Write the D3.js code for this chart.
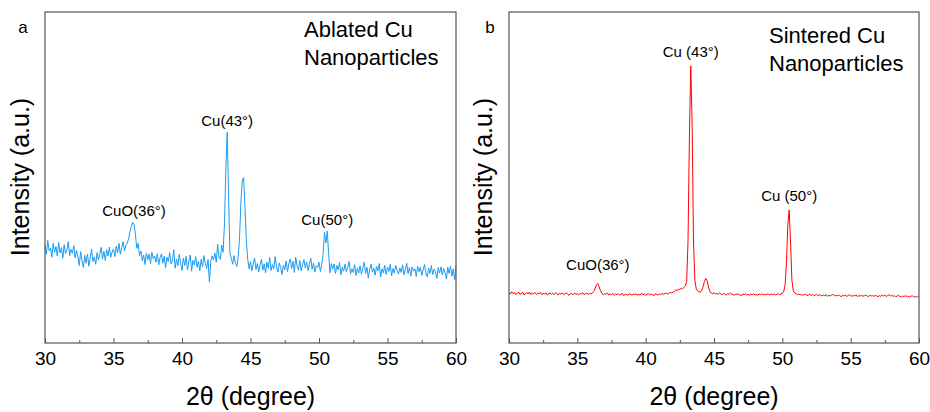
<!DOCTYPE html>
<html lang="en">
<head>
<meta charset="UTF-8">
<title>XRD Cu nanoparticles</title>
<script src="https://cdnjs.cloudflare.com/ajax/libs/d3/7.8.5/d3.min.js"></script>
<style>
  body { margin: 0; background: #fff; }
  svg text { font-family: "Liberation Sans", Arial, sans-serif; fill: #000; }
</style>
</head>
<body>
<script>
// x grid of the scans (2theta, 0.1 deg step)
var angles = d3.range(0, 301).map(function(i){ return +(30 + i * 0.1).toFixed(1); });

// ablated Cu, intensity (a.u.)
var ablated = [
  29.5, 26.8, 31.0, 27.9, 28.6, 25.9, 30.2, 27.4, 29.1, 26.3,
  30.4, 27.2, 28.8, 25.6, 29.7, 27.0, 28.1, 30.6, 26.4, 28.3,
  27.1, 29.4, 25.8, 28.0, 26.2, 23.4, 27.6, 24.9, 22.8, 26.5,
  24.1, 26.9, 23.2, 25.7, 28.4, 24.6, 26.0, 23.8, 27.3, 25.1,
  26.8, 28.9, 25.4, 27.7, 24.9, 28.2, 26.3, 29.0, 25.9, 27.5,
  28.4, 26.1, 29.3, 27.2, 30.1, 26.8, 28.9, 30.6, 27.8, 29.5,
  30.2, 31.4, 33.6, 35.2, 36.5, 35.8, 32.9, 28.6, 30.1, 26.4,
  27.8, 24.9, 26.6, 23.7, 27.1, 25.2, 26.9, 24.0, 27.4, 25.5,
  26.3, 24.4, 27.0, 23.6, 25.8, 26.9, 24.1, 26.2, 22.7, 25.9,
  24.6, 27.3, 23.9, 25.1, 28.2, 22.6, 25.4, 23.3, 26.8, 24.2,
  21.9, 25.6, 23.4, 26.2, 22.1, 24.8, 26.6, 21.7, 25.0, 23.6,
  26.1, 22.9, 24.7, 21.8, 25.3, 23.0, 26.4, 24.1, 22.5, 25.2,
  18.4, 24.6, 26.3, 25.1, 27.2, 24.4, 29.9, 26.0, 25.3, 29.6,
  27.4, 36.0, 52.5, 63.7, 44.2, 27.0, 25.6, 23.8, 26.4, 24.2,
  23.1, 25.9, 31.8, 42.6, 49.2, 50.0, 41.0, 30.8, 25.2, 22.4,
  24.6, 21.8, 23.9, 25.7, 22.2, 24.0, 21.5, 23.6, 25.3, 22.0,
  23.9, 21.2, 24.4, 22.6, 25.8, 21.9, 23.7, 22.3, 26.1, 23.0,
  21.4, 24.2, 22.8, 20.7, 23.5, 22.1, 24.8, 21.6, 23.9, 25.4,
  22.5, 24.7, 21.3, 25.9, 23.2, 22.0, 24.9, 21.8, 23.6, 25.2,
  22.7, 24.5, 21.9, 23.8, 25.6, 22.3, 24.1, 21.4, 23.3, 22.8,
  24.4, 21.6, 23.7, 26.8, 33.5, 30.2, 33.8, 27.4, 21.2, 24.0,
  22.3, 23.9, 21.0, 23.4, 22.1, 24.3, 20.6, 22.9, 21.7, 23.8,
  21.5, 22.8, 24.6, 20.9, 22.4, 21.3, 23.7, 20.4, 22.6, 21.1,
  23.3, 20.8, 22.7, 24.4, 21.0, 22.9, 19.6, 22.2, 23.8, 21.4,
  22.6, 20.5, 23.1, 21.8, 24.0, 19.9, 22.4, 21.2, 23.5, 20.7,
  22.9, 21.6, 23.8, 20.3, 22.5, 21.1, 23.4, 22.0, 20.8, 22.7,
  21.3, 23.6, 20.6, 22.2, 24.1, 21.0, 22.8, 20.2, 23.0, 21.7,
  22.4, 20.1, 23.2, 21.5, 22.9, 20.4, 22.1, 23.7, 21.2, 20.0,
  22.6, 21.0, 23.4, 20.7, 22.3, 21.6, 19.5, 22.8, 21.1, 23.0,
  20.6, 22.5, 21.3, 19.3, 22.9, 21.0, 23.2, 20.2, 22.4, 19.1,
  23.5
];

// sintered Cu, intensity (a.u.)
var sintered = [
  15.2, 14.8, 15.5, 14.9, 15.3, 14.6, 15.1, 15.4, 14.7, 15.0,
  15.3, 14.5, 15.0, 15.2, 14.8, 15.4, 14.6, 15.1, 14.9, 15.2,
  14.7, 15.1, 14.9, 15.3, 14.6, 15.0, 14.8, 15.2, 14.5, 14.9,
  15.1, 14.7, 15.0, 14.6, 15.2, 14.9, 14.5, 15.0, 14.8, 15.1,
  14.6, 14.9, 15.2, 14.7, 14.4, 15.0, 14.8, 14.6, 15.1, 14.7,
  14.9, 14.5, 15.0, 14.8, 15.2, 14.6, 14.9, 15.1, 14.7, 15.0,
  14.8, 15.1, 15.6, 16.4, 17.6, 18.0, 16.9, 15.8, 15.0, 14.6,
  14.9, 14.7, 15.1, 14.5, 14.8, 14.6, 15.0, 14.4, 14.8, 14.6,
  14.9, 14.5, 14.7, 15.0, 14.3, 14.8, 14.6, 14.4, 14.9, 14.7,
  14.5, 14.8, 14.6, 14.9, 14.4, 14.7, 14.5, 15.0, 14.6, 14.8,
  14.4, 14.7, 14.9, 14.5, 14.8, 14.6, 14.3, 14.9, 14.7, 14.5,
  14.8, 14.6, 15.0, 14.7, 14.9, 15.1, 14.8, 15.0, 15.3, 15.1,
  15.4, 15.6, 16.0, 15.8, 16.3, 16.1, 16.6, 16.4, 16.8, 17.2,
  18.5, 31.0, 62.0, 83.7, 66.0, 30.5, 19.0, 16.4, 15.8, 15.5,
  15.3, 15.9, 17.0, 18.6, 19.5, 18.8, 16.9, 15.6, 15.1, 14.9,
  15.2, 14.8, 15.0, 14.7, 15.1, 14.9, 14.6, 15.0, 14.8, 14.5,
  14.9, 14.7, 15.1, 14.8, 14.6, 14.4, 14.9, 14.6, 14.8, 14.5,
  14.3, 14.8, 14.6, 14.9, 14.5, 14.7, 14.4, 14.8, 14.6, 14.9,
  14.5, 14.7, 14.4, 14.8, 14.6, 14.9, 14.5, 14.7, 14.6, 14.8,
  14.7, 14.5, 14.9, 14.6, 14.8, 14.5, 14.7, 14.9, 14.6, 14.8,
  15.0, 15.6, 17.4, 24.0, 35.5, 40.2, 30.5, 19.0, 15.8, 15.1,
  14.9, 14.6, 14.8, 14.5, 14.7, 14.4, 14.6, 14.8, 14.3, 14.5,
  14.7, 14.4, 14.6, 14.2, 14.5, 14.7, 14.3, 14.6, 14.4, 14.2,
  14.5, 14.3, 14.6, 14.1, 14.4, 14.2, 14.5, 14.7, 14.3, 14.4,
  14.2, 14.5, 14.3, 14.0, 14.4, 14.2, 14.5, 14.1, 14.3, 14.6,
  14.3, 14.1, 14.4, 14.2, 14.5, 14.0, 14.3, 14.2, 14.4, 14.1,
  14.3, 14.5, 14.2, 14.0, 14.4, 14.2, 14.3, 14.1, 14.4, 14.2,
  14.0, 14.3, 14.1, 14.4, 14.2, 14.5, 14.1, 14.3, 14.6, 14.2,
  14.4, 14.1, 14.3, 14.0, 14.2, 14.4, 14.1, 13.9, 14.2, 14.0,
  14.3, 14.0, 14.2, 13.8, 14.1, 14.3, 13.9, 14.1, 13.8, 14.0,
  14.2
];

var majorTicks = [30, 35, 40, 45, 50, 55, 60];
var minorTicks = [32.5, 37.5, 42.5, 47.5, 52.5, 57.5];

// peak labels: [angle, intensity, text]
var peaksA = [[36.5, 38.5, "CuO(36\u00b0)"], [43.3, 65.5, "Cu(43\u00b0)"], [50.6, 35.5, "Cu(50\u00b0)"]];
var peaksB = [[36.5, 22, "CuO(36\u00b0)"], [43.3, 86.5, "Cu (43\u00b0)"], [50.5, 43, "Cu (50\u00b0)"]];

var width = 930, height = 412;
var svg = d3.select("body").append("svg")
  .attr("width", width)
  .attr("height", height);

function panel(opt){
  var x = d3.scaleLinear().domain([30, 60]).range([opt.left, opt.right]);
  var y = d3.scaleLinear().domain([0, 100]).range([343, 12]);
  var g = svg.append("g");

  var line = d3.line()
    .x(function(d){ return x(d[0]); })
    .y(function(d){ return y(d[1]); });

  g.append("path")
    .datum(angles.map(function(a, i){ return [a, opt.values[i]]; }))
    .attr("d", line)
    .attr("fill", "none")
    .attr("stroke", opt.color)
    .attr("stroke-width", 1);

  // frame
  g.append("rect")
    .attr("x", opt.left).attr("y", 12)
    .attr("width", opt.right - opt.left).attr("height", 331)
    .attr("fill", "none")
    .attr("stroke", "#555")
    .attr("stroke-width", 1.2);

  var ax = g.append("g")
    .attr("transform", "translate(0,343)")
    .call(d3.axisBottom(x).tickValues(majorTicks).tickSize(-5).tickPadding(9).tickFormat(d3.format("d")));
  ax.select(".domain").remove();
  ax.selectAll("line").attr("stroke", "#555");
  ax.selectAll("text").style("font-size", "19px").attr("fill", "#000");

  var mx = g.append("g")
    .attr("transform", "translate(0,343)")
    .call(d3.axisBottom(x).tickValues(minorTicks).tickSize(-3).tickFormat(""));
  mx.select(".domain").remove();
  mx.selectAll("line").attr("stroke", "#555");

  g.append("text")
    .attr("x", (opt.left + opt.right) / 2).attr("y", 405)
    .attr("text-anchor", "middle")
    .style("font-size", "25px")
    .text("2\u03b8 (degree)");

  g.append("text")
    .attr("transform", "translate(" + opt.ylabX + ",177) rotate(-90)")
    .attr("text-anchor", "middle")
    .style("font-size", "25px")
    .text("Intensity (a.u.)");

  g.append("text")
    .attr("x", opt.letterX).attr("y", 33)
    .attr("text-anchor", "middle")
    .style("font-size", "17px")
    .text(opt.letter);

  g.selectAll("text.title")
    .data(opt.title)
    .enter().append("text")
    .attr("class", "title")
    .attr("x", opt.titleX)
    .attr("y", function(d, i){ return opt.titleY + i * 28.5; })
    .style("font-size", "22px")
    .text(function(d){ return d; });

  g.selectAll("text.peak")
    .data(opt.peaks)
    .enter().append("text")
    .attr("class", "peak")
    .attr("x", function(d){ return x(d[0]); })
    .attr("y", function(d){ return y(d[1]); })
    .attr("text-anchor", "middle")
    .style("font-size", "15px")
    .text(function(d){ return d[2]; });
}

panel({
  left: 45, right: 456, values: ablated, color: "#1a9cf2",
  ylabX: 29, letter: "a", letterX: 23,
  title: ["Ablated Cu", "Nanoparticles"], titleX: 304, titleY: 36.5,
  peaks: peaksA
});

panel({
  left: 509, right: 919, values: sintered, color: "#ff0000",
  ylabX: 492, letter: "b", letterX: 490,
  title: ["Sintered Cu", "Nanoparticles"], titleX: 769, titleY: 42.5,
  peaks: peaksB
});
</script>
</body>
</html>
